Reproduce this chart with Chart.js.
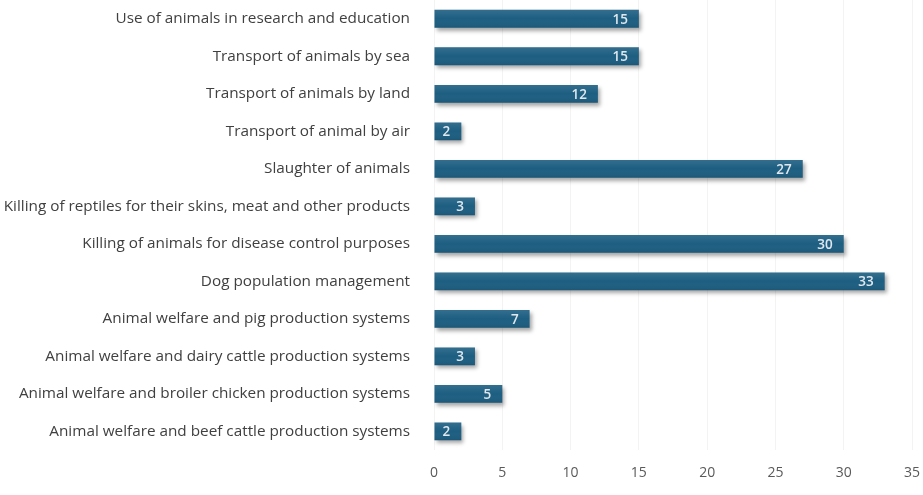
<!DOCTYPE html>
<html>
<head>
<meta charset="utf-8">
<script src="https://cdn.jsdelivr.net/npm/chart.js@4"></script>
<style>
  html, body { margin: 0; padding: 0; background: #fff; }
  #wrap { width: 923px; height: 495px; }
</style>
</head>
<body>
<div id="wrap"><canvas id="myChart"></canvas></div>
<script>
const topics = [
  'Use of animals in research and education',
  'Transport of animals by sea',
  'Transport of animals by land',
  'Transport of animal by air',
  'Slaughter of animals',
  'Killing of reptiles for their skins, meat and other products',
  'Killing of animals for disease control purposes',
  'Dog population management',
  'Animal welfare and pig production systems',
  'Animal welfare and dairy cattle production systems',
  'Animal welfare and broiler chicken production systems',
  'Animal welfare and beef cattle production systems'
];
const counts = [15, 15, 12, 2, 27, 3, 30, 33, 7, 3, 5, 2];
const xTicks = [0, 5, 10, 15, 20, 25, 30, 35];

// soft drop shadow under the bars
const barShadow = {
  id: 'barShadow',
  beforeDatasetDraw(chart) {
    const ctx = chart.ctx;
    ctx.save();
    ctx.shadowColor = 'rgba(0,0,0,0.35)';
    ctx.shadowBlur = 4;
    ctx.shadowOffsetX = 2;
    ctx.shadowOffsetY = 3;
  },
  afterDatasetDraw(chart) {
    chart.ctx.restore();
  }
};

// slight sheen on the top of each bar + white value labels at the end
const valueLabels = {
  id: 'valueLabels',
  afterDatasetsDraw(chart) {
    const ctx = chart.ctx;
    const meta = chart.getDatasetMeta(0);
    ctx.save();
    meta.data.forEach(bar => {
      const h = bar.height;
      const g = ctx.createLinearGradient(0, bar.y - h / 2, 0, bar.y + h / 2);
      g.addColorStop(0, 'rgba(255,255,255,0.10)');
      g.addColorStop(0.5, 'rgba(255,255,255,0)');
      g.addColorStop(1, 'rgba(0,0,0,0.08)');
      ctx.fillStyle = g;
      ctx.fillRect(bar.base, bar.y - h / 2, bar.x - bar.base, h);
    });
    ctx.font = '600 13.5px "Open Sans", sans-serif';
    ctx.fillStyle = '#e0e8ee';
    ctx.textAlign = 'right';
    ctx.textBaseline = 'middle';
    meta.data.forEach((bar, i) => {
      ctx.fillText(String(counts[i]), bar.x - 11, bar.y + 1);
    });
    ctx.restore();
  }
};

const ctx = document.getElementById('myChart').getContext('2d');
new Chart(ctx, {
  type: 'bar',
  data: {
    labels: topics,
    datasets: [{
      data: counts,
      backgroundColor: '#1d5e81',
      borderWidth: 0,
      barPercentage: 0.95,
      categoryPercentage: 0.5
    }]
  },
  options: {
    indexAxis: 'y',
    responsive: true,
    maintainAspectRatio: false,
    animation: false,
    layout: { padding: { top: 0, right: 11, bottom: 0, left: 0 } },
    plugins: { legend: { display: false }, tooltip: { enabled: false } },
    scales: {
      x: {
        min: 0,
        max: 35,
        afterBuildTicks(scale) {
          scale.ticks = xTicks.map(v => ({ value: v }));
        },
        afterFit(scale) { scale.paddingRight = 0; scale.paddingLeft = 0; },
        grid: { color: '#f3f3f3', drawTicks: false },
        border: { display: false },
        ticks: {
          color: '#5a5a5a',
          padding: 14,
          font: { family: '"Open Sans", sans-serif', size: 14 }
        }
      },
      y: {
        grid: { display: false },
        border: { display: false },
        afterFit(scale) {
          scale.width = 434;
          scale.paddingTop = 0;
          scale.paddingBottom = 0;
        },
        ticks: {
          color: '#404040',
          padding: 16,
          autoSkip: false,
          font: { family: '"Open Sans", sans-serif', size: 15.3 }
        }
      }
    }
  },
  plugins: [barShadow, valueLabels]
});
</script>
</body>
</html>
